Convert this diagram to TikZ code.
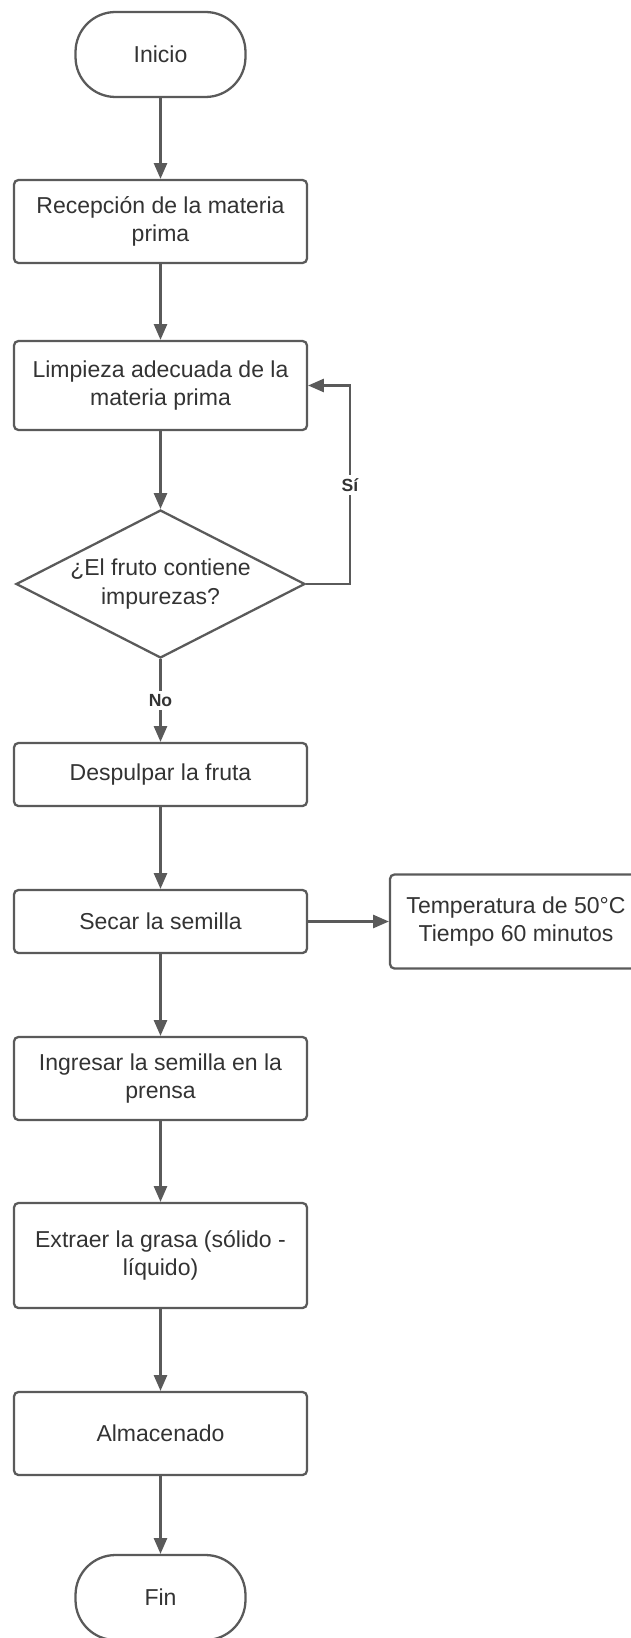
\documentclass[tikz,border=0pt]{standalone}
\usepackage{fontspec}
\setmainfont{Liberation Sans}
\usetikzlibrary{shapes.geometric,arrows.meta}
\definecolor{linea}{HTML}{5A5A5A}
\definecolor{texto}{HTML}{333333}

\begin{document}
\begin{tikzpicture}[x=0.02cm,y=-0.02cm,
    proceso/.style={draw=linea,line width=1.3pt,rounded corners=2.5pt,minimum width=5.86cm,
        text=texto,align=center,inner sep=2pt,font=\fontsize{13.1}{16}\selectfont},
    terminal/.style={proceso,minimum width=3.4cm,minimum height=1.7cm,rounded corners=0.8cm},
    decision/.style={diamond,draw=linea,line width=1.3pt,aspect=1.95,inner sep=0pt,
        minimum width=5.78cm,minimum height=2.96cm,text=texto,align=center,
        font=\fontsize{13.1}{16}\selectfont},
    flecha/.style={draw=linea,line width=1.2pt,-{Triangle[width=7.5pt,length=9pt]}},
    etiqueta/.style={fill=white,text=texto,inner sep=2pt,font=\fontsize{10}{12}\selectfont\bfseries}]
    \useasboundingbox (0,0) rectangle (631,1638);
    \clip (0,0) rectangle (631,1638);
    % pasos del proceso
    \node [terminal] (inicio) at (160.5,54.5) {Inicio};
    \node [proceso,minimum height=1.66cm] (recep) at (160.5,221.5) {Recepción de la materia\\prima};
    \node [proceso,minimum height=1.78cm] (limp) at (160.5,385.5) {Limpieza adecuada de la\\materia prima};
    \node [decision] (dec) at (160.5,584) {¿El fruto contiene\\impurezas?};
    \node [proceso,minimum height=1.26cm] (desp) at (160.5,774.5) {Despulpar la fruta};
    \node [proceso,minimum height=1.26cm] (secar) at (160.5,921.5) {Secar la semilla};
    \node [proceso,minimum width=5.04cm,minimum height=1.88cm] (temp) at (516,921.5) {Temperatura de 50°C\\Tiempo 60 minutos};
    \node [proceso,minimum height=1.66cm] (ingr) at (160.5,1078.5) {Ingresar la semilla en la\\prensa};
    \node [proceso,minimum height=2.1cm] (extr) at (160.5,1255.5) {Extraer la grasa (sólido -\\líquido)};
    \node [proceso,minimum height=1.66cm] (alm) at (160.5,1433.5) {Almacenado};
    \node [terminal] (fin) at (160.5,1597.5) {Fin};
    % conectores
    \draw [flecha] (inicio) -- (recep);
    \draw [flecha] (recep) -- (limp);
    \draw [flecha] (limp) -- (dec);
    \coordinate (giro) at (350,584);
    \draw [flecha] (dec.east) -- (giro) |- node [etiqueta,pos=0.25] {Sí} (limp.east);
    \draw [flecha] (dec.south) -- node [etiqueta] {No} (desp.north);
    \draw [flecha] (desp) -- (secar);
    \draw [flecha] (secar) -- (temp);
    \draw [flecha] (secar) -- (ingr);
    \draw [flecha] (ingr) -- (extr);
    \draw [flecha] (extr) -- (alm);
    \draw [flecha] (alm) -- (fin);
\end{tikzpicture}
\end{document}
